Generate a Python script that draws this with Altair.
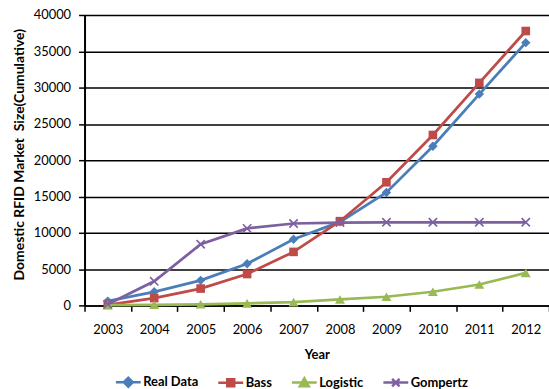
import altair as alt
import pandas as pd

years = [str(y) for y in range(2003, 2013)]
real_data = [590, 1870, 3450, 5730, 9100, 11500, 15550, 21920, 29100, 36190]
bass = [80, 1000, 2320, 4320, 7370, 11600, 16960, 23470, 30650, 37790]
logistic = [30, 80, 150, 280, 450, 820, 1190, 1880, 2880, 4480]
gompertz = [150, 3320, 8420, 10600, 11280, 11400, 11450, 11450, 11450, 11450]

series = ["Real Data", "Bass", "Logistic", "Gompertz"]
colors = ["#4A7EBB", "#BE4B48", "#98B954", "#7D60A0"]
values = [real_data, bass, logistic, gompertz]

rows = []
for s, vals in zip(series, values):
    for y, v in zip(years, vals):
        rows.append({"Year": y, "Series": s, "Value": v})
df = pd.DataFrame(rows)

FONT = "Lato"

x_enc = alt.X(
    "Year:O",
    sort=years,
    scale=alt.Scale(type="band", paddingInner=0, paddingOuter=0),
    axis=alt.Axis(
        title="Year", labelAngle=0, tickBand="extent", grid=False,
        domainColor="#000000", domainWidth=1.5, tickColor="#000000", tickWidth=1.5,
        tickSize=6, labelPadding=12, labelFontSize=13, labelColor="#000000",
        titleFontSize=13, titleFontWeight="bold", titlePadding=12, titleColor="#000000",
    ),
)
y_enc = alt.Y(
    "Value:Q",
    scale=alt.Scale(domain=[0, 40000], nice=False),
    axis=alt.Axis(
        title="Domestic RFID Market\u00a0 Size(Cumulative)",
        values=list(range(0, 40001, 5000)), format="d",
        grid=True, gridColor="#000000", gridWidth=1.5,
        domainColor="#000000", domainWidth=2, tickColor="#000000", tickWidth=1.5,
        tickSize=6, labelPadding=8, labelFontSize=13, labelColor="#000000",
        titleFontSize=14, titleFontWeight="bold", titleColor="#000000",
        titleX=-65, titleY=140, titleBaseline="middle",
    ),
)

point_shapes = {
    "Real Data": ("diamond", 90, True),
    "Bass": ("square", 75, True),
    "Logistic": ("triangle-up", 100, True),
    "Gompertz": ("M-1,-1L1,1M-1,1L1,-1", 70, False),
}

layers = []
for s, col in zip(series, colors):
    base = alt.Chart(df).transform_filter(alt.datum.Series == s)
    line = base.mark_line(strokeWidth=2.75, color=col).encode(x=x_enc, y=y_enc)
    shp, size, filled = point_shapes[s]
    pts = base.mark_point(shape=shp, size=size, filled=filled, opacity=1,
                          strokeWidth=1.6, color=col).encode(x=x_enc, y=y_enc)
    layers += [line, pts]

legend_paths = [
    "M-1,0H1M-0.36,0L0,-0.36L0.36,0L0,0.36Z",
    "M-1,0H1M-0.28,-0.28H0.28V0.28H-0.28Z",
    "M-1,0H1M-0.36,0.3H0.36L0,-0.34Z",
    "M-1,0H1M-0.3,-0.3L0.3,0.3M-0.3,0.3L0.3,-0.3",
]
leg = alt.Legend(
    title=None, orient="none", legendX=30, legendY=355, direction="horizontal",
    columns=4, symbolSize=625, symbolStrokeWidth=2.5, symbolOpacity=1,
    labelFont=FONT, labelFontSize=13, labelFontWeight="bold", labelColor="#000000",
    labelOffset=1, columnPadding=14, padding=0,
)
# legend-only layer (no rows drawn; the legend comes from the explicit scale domains)
legend_layer = alt.Chart(df).transform_filter("false").mark_point(
    filled=True, strokeWidth=2.5, opacity=1
).encode(
    x=x_enc, y=y_enc,
    shape=alt.Shape("Series:N", scale=alt.Scale(domain=series, range=legend_paths),
                    legend=leg),
    fill=alt.Fill("Series:N", scale=alt.Scale(domain=series, range=colors),
                  legend=leg),
    stroke=alt.Stroke("Series:N", scale=alt.Scale(domain=series, range=colors),
                      legend=leg),
)
layers.append(legend_layer)

chart = alt.layer(*layers).properties(
    width=467, height=292,
    autosize=alt.AutoSizeParams(type="none"),
    padding={"left": 85, "top": 14, "right": 0, "bottom": 83},
).configure(font=FONT).configure_view(stroke=None)

chart.save("out.html", embed_options={"renderer": "svg", "actions": False})
